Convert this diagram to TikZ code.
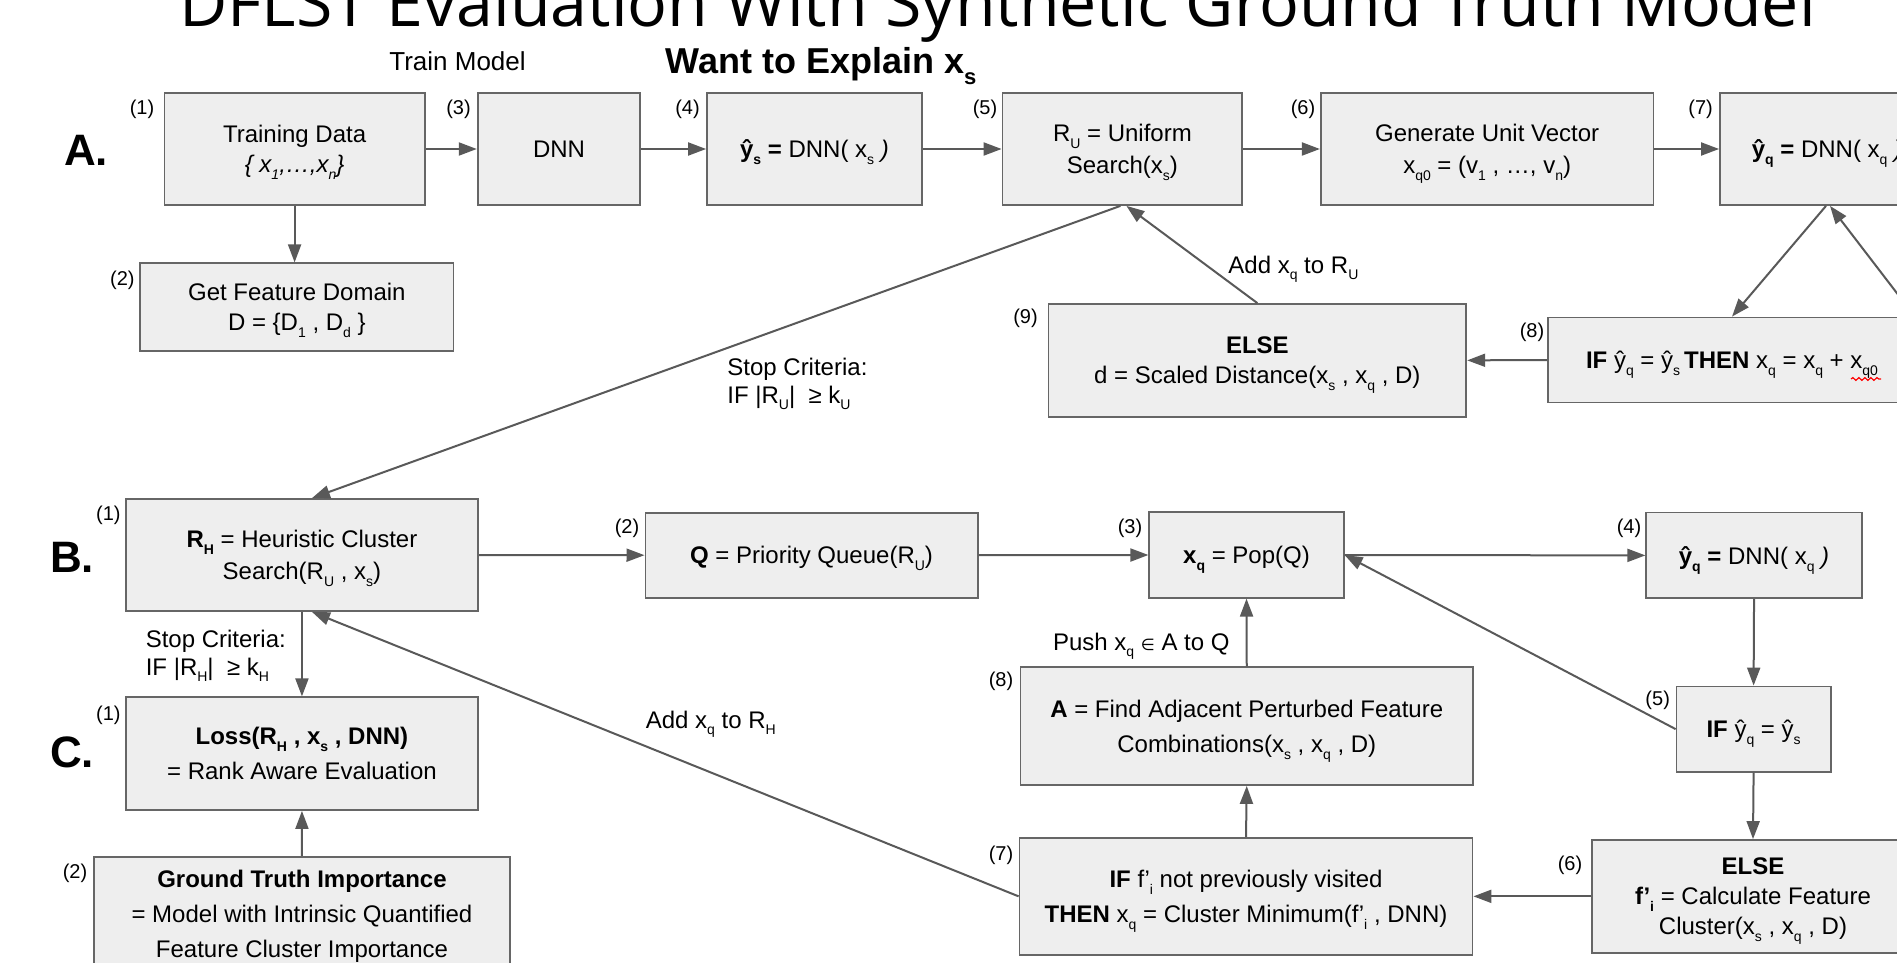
\documentclass[tikz,border=0pt]{standalone}
\usepackage{fontspec}
\setmainfont{Liberation Sans}
\newfontfamily\titlefont{Open Sans}
\newfontfamily\symfont{DejaVu Sans}
\usetikzlibrary{arrows.meta,decorations.pathmorphing}
\definecolor{boxfill}{HTML}{EEEEEE}
\definecolor{boxline}{HTML}{666666}
\definecolor{arrowc}{HTML}{595959}
\newcommand\sub[1]{\raisebox{-3.4pt}{\fontsize{7}{7}\selectfont #1}}
\newcommand\bsub[1]{\raisebox{-5.5pt}{\fontsize{11}{11}\selectfont #1}}
\begin{document}
\begin{tikzpicture}[x=0.5pt,y=-0.5pt,
  box/.style={draw=boxline, fill=boxfill, line width=0.9pt, inner sep=0pt, align=center, text depth=0pt, font=\fontsize{12}{16}\selectfont},
  sp15/.style={font=\fontsize{12}{15}\selectfont},
  sp17/.style={font=\fontsize{12}{17.5}\selectfont},
  num/.style={inner sep=0pt, font=\fontsize{10}{12}\selectfont},
  lbl/.style={inner sep=0pt, align=left, anchor=base west, font=\fontsize{12}{14}\selectfont},
  big/.style={inner sep=0pt, font=\fontsize{22}{26}\selectfont\bfseries},
  arr/.style={draw=arrowc, line width=1pt, -{Triangle[length=9pt,width=6.5pt]}},
]
\useasboundingbox (0,0) rectangle (1897,963);
\clip (0,0) rectangle (1897,963);

\node[anchor=base west, inner sep=0pt] (title) at (179,27) {\titlefont\resizebox{818pt}{!}{DFLST Evaluation With Synthetic Ground Truth Model}};

% Row A
\node[box, sp15, minimum width=130.1pt, minimum height=56pt] (tr) at (294.6,149) {Training Data\\\textit{\{ x\sub{1},…,x\sub{n}\}}};
\node[box, minimum width=81.3pt, minimum height=56pt] (dnn) at (559,149) {DNN};
\node[box, minimum width=107.5pt, minimum height=56pt] (ys) at (814.5,149) {\textbf{ŷ\sub{s} =} DNN( x\sub{s} \textit{)}};
\node[box, minimum width=119.9pt, minimum height=56pt] (ru) at (1122.4,149) {R\sub{U} = Uniform\\Search(x\sub{s})};
\node[box, minimum width=166.35pt, minimum height=56pt] (gen) at (1487.15,149) {Generate Unit Vector\\x\sub{q0} = (v\sub{1} , …, v\sub{n})};
\node[box, minimum width=107pt, minimum height=56pt] (yqa) at (1827,149) {\textbf{ŷ\sub{q} =} DNN( x\sub{q} \textit{)}};
\node[box, sp15, minimum width=156.55pt, minimum height=43.7pt] (gfd) at (296.85,307) {Get Feature Domain\\D = \{D\sub{1} , D\sub{d} \}};
\node[box, sp15, minimum width=208.95pt, minimum height=56.35pt] (els) at (1257.35,360.35) {\textbf{ELSE}\\d = Scaled Distance(x\sub{s} , x\sub{q} , D)};
\node[box, minimum width=184pt, minimum height=42.5pt] (ifa) at (1732,360) {\textbf{IF} ŷ\sub{q} = ŷ\sub{s}\,\textbf{THEN} x\sub{q} = x\sub{q} + x\sub{q0}};

% Row B
\node[box, minimum width=176.35pt, minimum height=56pt] (rh) at (301.95,555) {\textbf{R\sub{H}} = Heuristic Cluster\\Search(R\sub{U} , x\sub{s})};
\node[box, minimum width=166.15pt, minimum height=42.5pt] (pq) at (811.55,555.2) {\textbf{Q} = Priority Queue(R\sub{U})};
\node[box, minimum width=97.2pt, minimum height=42.7pt] (pop) at (1246.5,555) {\textbf{x\sub{q}} = Pop(Q)};
\node[box, minimum width=107.75pt, minimum height=42.9pt] (yqb) at (1754.05,555.4) {\textbf{ŷ\sub{q} =} DNN( x\sub{q} \textit{)}};
\node[box, minimum width=77.1pt, minimum height=42.6pt] (ifb) at (1753.6,729.1) {\textbf{IF} ŷ\sub{q} = ŷ\sub{s}};
\node[box, sp15, minimum width=161pt, minimum height=56.35pt] (elb) at (1753,896.35) {\textbf{ELSE}\\\textbf{f’\sub{i}} = Calculate Feature\\Cluster(x\sub{s} , x\sub{q} , D)};
\node[box, sp17, minimum width=226.5pt, minimum height=58.65pt] (ifc) at (1246,896.35) {\textbf{IF} f’\sub{i} not previously visited\\\textbf{THEN} x\sub{q} = Cluster Minimum(f’\sub{i} , DNN)};
\node[box, sp17, minimum width=226.25pt, minimum height=58.85pt] (adj) at (1246.75,726.15) {\textbf{A} = Find Adjacent Perturbed Feature\\Combinations(x\sub{s} , x\sub{q} , D)};

% Row C
\node[box, sp17, minimum width=176.35pt, minimum height=56.35pt] (loss) at (301.95,753.65) {\textbf{Loss(R\sub{H} , x\sub{s} , DNN)}\\= Rank Aware Evaluation};
\node[box, sp17, minimum width=208.2pt, minimum height=57.15pt] (gt) at (301.975,913.85) {\textbf{Ground Truth Importance}\\= Model with Intrinsic Quantified\\Feature Cluster Importance};

% step numbers
\node[num] (nA1) at (142,109) {(1)};
\node[num] (nA2) at (122.4,280) {(2)};
\node[num] (nA3) at (458.5,109) {(3)};
\node[num] (nA4) at (687.5,109) {(4)};
\node[num] (nA5) at (985,109) {(5)};
\node[num] (nA6) at (1303,109) {(6)};
\node[num] (nA7) at (1700.6,109) {(7)};
\node[num] (nA8) at (1532,332) {(8)};
\node[num] (nA9) at (1025.5,318) {(9)};
\node[num] (nB1) at (108.4,515) {(1)};
\node[num] (nB2) at (627,528) {(2)};
\node[num] (nB3) at (1130,528) {(3)};
\node[num] (nB4) at (1629,528) {(4)};
\node[num] (nB5) at (1657.7,700) {(5)};
\node[num] (nB6) at (1570,865) {(6)};
\node[num] (nB7) at (1001,855) {(7)};
\node[num] (nB8) at (1001,681.7) {(8)};
\node[num] (nC1) at (108.4,715) {(1)};
\node[num] (nC2) at (75,873) {(2)};

% section letters and headings
\node[big] (lA) at (86,150) {A.};
\node[big] (lB) at (72,557) {B.};
\node[big] (lC) at (72,752) {C.};
\node[lbl, font=\fontsize{13}{15}\selectfont] (trm) at (389,71) {Train Model};
\node[lbl, font=\fontsize{18}{20}\selectfont\bfseries] (want) at (665,74) {Want to Explain x\bsub{s}};

% connector labels
\node[lbl] (addru) at (1228,273) {Add x\sub{q} to R\sub{U}};
\node[lbl] (stopa) at (727,403) {Stop Criteria:\\IF |R\sub{U}| ~≥ k\sub{U}};
\node[lbl] (stopb) at (145.4,675) {Stop Criteria:\\IF |R\sub{H}| ~≥ k\sub{H}};
\node[lbl] (addrh) at (645.4,728) {Add x\sub{q} to R\sub{H}};
\node[lbl] (push) at (1052.7,650) {Push x\sub{q} {\symfont\fontsize{8}{8}\selectfont ∈} A to Q};

% connectors
\draw[arr] (tr.east) -- (dnn.west);
\draw[arr] (dnn.east) -- (ys.west);
\draw[arr] (ys.east) -- (ru.west);
\draw[arr] (ru.east) -- (gen.west);
\draw[arr] (gen.east) -- (yqa.west);
\draw[arr] (tr.south) -- (tr.south |- gfd.north);
\draw[arr] (ifa.west) -- (els.east);
\draw[arr] (els.north) -- ([xshift=2pt]ru.south);
\draw[arr] ([xshift=-1pt]ru.south) -- ([xshift=5pt]rh.north);
\draw[arr] ([xshift=-0.5pt]yqa.south) -- (ifa.north);
\draw[arr] ([xshift=-1pt]ifa.north east) -- ([xshift=1.5pt]yqa.south);
\draw[arr] (rh.east) -- (pq.west);
\draw[arr] (pq.east) -- (pop.west);
\draw[arr] (pop.east) -- (yqb.west);
\draw[arr] (yqb.south) -- (ifb.north);
\draw[arr] (ifb.west) -- (pop.east);
\draw[arr] (ifb.south) -- (elb.north);
\draw[arr] (elb.west) -- (ifc.east);
\draw[arr] (ifc.north) -- (adj.south);
\draw[arr] (adj.north) -- (pop.south);
\draw[arr] (ifc.west) -- ([xshift=5pt]rh.south);
\draw[arr] (rh.south) -- (loss.north);
\draw[arr] (gt.north) -- (loss.south);

% spell-check squiggle under q0
\draw[red, line width=0.6pt, decorate, decoration={snake,amplitude=0.7pt,segment length=3pt}] (1851,379) -- (1881,379);
\end{tikzpicture}
\end{document}
